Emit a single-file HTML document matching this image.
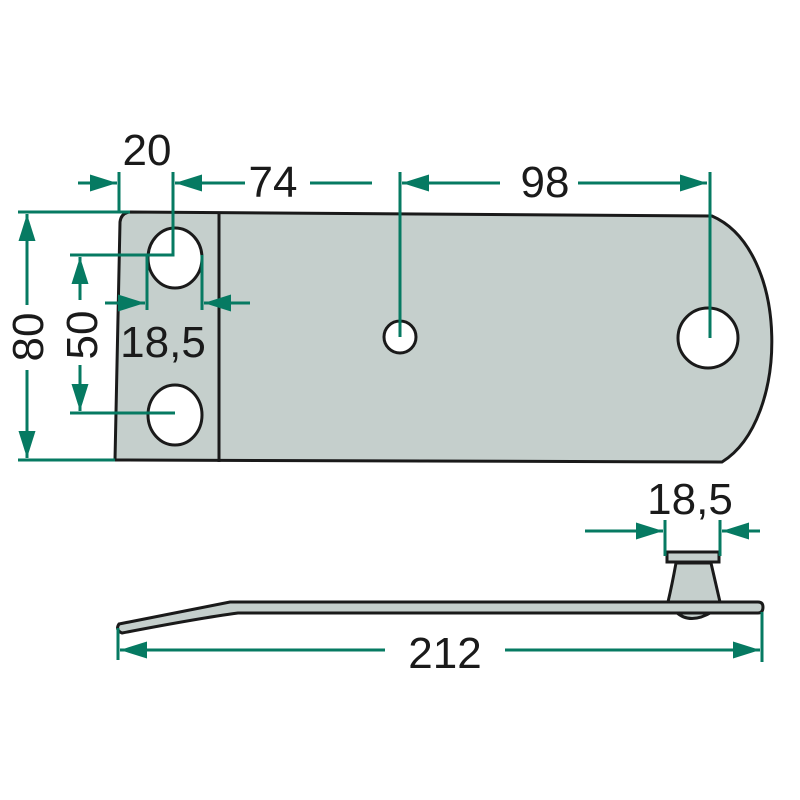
<!DOCTYPE html>
<html><head><style>body{margin:0;background:#fff}svg{display:block}</style></head><body>
<svg width="800" height="800" viewBox="0 0 800 800" xmlns="http://www.w3.org/2000/svg">
<defs>
<marker id="a" viewBox="0 0 10 10" refX="10" refY="5" markerWidth="27" markerHeight="17" markerUnits="userSpaceOnUse" orient="auto-start-reverse" preserveAspectRatio="none"><path d="M0,0 L10,5 L0,10z" fill="#067a62"/></marker>
</defs>
<g stroke="#1a1a1a" stroke-width="3" fill="#c5cfcc">
<path d="M130,212 L712,216 C790,250 790,420 722,462 L115,460 L120,222 Q121,213 130,212 Z"/>
<line x1="219" y1="213" x2="219" y2="462"/>
<ellipse cx="175" cy="258" rx="27" ry="30" fill="#fff"/>
<ellipse cx="175" cy="415" rx="27" ry="30" fill="#fff"/>
<circle cx="400" cy="337" r="16" fill="#fff"/>
<circle cx="708" cy="338" r="30" fill="#fff"/>
<path d="M676,612 Q690,625 712,612 Z"/>
<path d="M676,563 L711,563 Q716,585 720,602 L668,602 Q672,585 676,563 Z"/>
<rect x="667" y="552" width="52" height="10"/>
<path d="M230,602 L758,602 Q763,602 763,607 Q763,613 758,613 L238,613 Q200,618 122,633 Q115,630 119,624 Z"/>
</g>
<g stroke="#067a62" stroke-width="3" fill="none">
<line x1="119" y1="172" x2="119" y2="212"/>
<line x1="78" y1="183" x2="117" y2="183" marker-end="url(#a)"/>
<polyline points="173,172 173,255 70,255"/>
<line x1="245" y1="183" x2="175" y2="183" marker-end="url(#a)"/>
<line x1="310" y1="183" x2="372" y2="183"/>
<line x1="400" y1="172" x2="400" y2="337"/>
<line x1="500" y1="183" x2="402" y2="183" marker-end="url(#a)"/>
<line x1="578" y1="183" x2="707" y2="183" marker-end="url(#a)"/>
<line x1="710" y1="172" x2="710" y2="338"/>
<line x1="18" y1="212" x2="130" y2="212"/>
<line x1="18" y1="460" x2="115" y2="460"/>
<line x1="27" y1="305" x2="27" y2="214" marker-end="url(#a)"/>
<line x1="27" y1="370" x2="27" y2="458" marker-end="url(#a)"/>
<line x1="80" y1="300" x2="80" y2="257" marker-end="url(#a)"/>
<line x1="80" y1="365" x2="80" y2="411" marker-end="url(#a)"/>
<line x1="70" y1="413" x2="175" y2="413"/>
<line x1="147" y1="255" x2="147" y2="310"/>
<line x1="202" y1="255" x2="202" y2="310"/>
<line x1="105" y1="303" x2="145" y2="303" marker-end="url(#a)"/>
<line x1="250" y1="303" x2="204" y2="303" marker-end="url(#a)"/>
<line x1="665" y1="520" x2="665" y2="556"/>
<line x1="720" y1="520" x2="720" y2="556"/>
<line x1="585" y1="531" x2="663" y2="531" marker-end="url(#a)"/>
<line x1="760" y1="531" x2="722" y2="531" marker-end="url(#a)"/>
<line x1="118" y1="628" x2="118" y2="660"/>
<line x1="762" y1="612" x2="762" y2="662"/>
<line x1="385" y1="650" x2="120" y2="650" marker-end="url(#a)"/>
<line x1="505" y1="650" x2="760" y2="650" marker-end="url(#a)"/>
</g>
<g font-family="Liberation Sans, sans-serif" font-size="44" fill="#1a1a1a" text-anchor="middle">
<text x="147" y="165">20</text>
<text x="273" y="197">74</text>
<text x="545" y="197">98</text>
<text x="163" y="357">18,5</text>
<text x="690" y="514">18,5</text>
<text x="445" y="668">212</text>
<text transform="translate(43,337) rotate(-90)">80</text>
<text transform="translate(97,335) rotate(-90)">50</text>
</g>
</svg>
</body></html>
